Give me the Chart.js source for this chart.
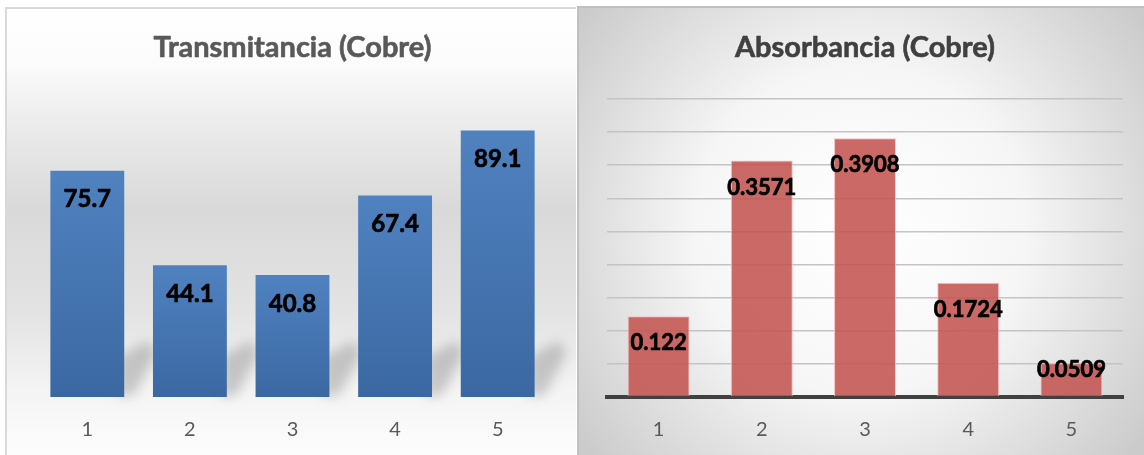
<!DOCTYPE html>
<html>
<head>
<meta charset="utf-8">
<script src="https://cdn.jsdelivr.net/npm/chart.js@4.4.0/dist/chart.umd.min.js"></script>
<style>
  body { margin: 0; background: #fff; width: 1144px; height: 455px; overflow: hidden; }
  .box { position: absolute; }
  #leftBox { left: 5px; top: 7px; width: 571px; height: 448px; }
  #rightBox { left: 577px; top: 6px; width: 567px; height: 449px; }
</style>
</head>
<body>
<div class="box" id="leftBox"><canvas id="transChart" width="571" height="448"></canvas></div>
<div class="box" id="rightBox"><canvas id="absChart" width="567" height="449"></canvas></div>
<script>
const categories = ["1", "2", "3", "4", "5"];
const transmitancia = [75.7, 44.1, 40.8, 67.4, 89.1];
const absorbancia = [0.122, 0.3571, 0.3908, 0.1724, 0.0509];
const titleTrans = "Transmitancia (Cobre)";
const titleAbs = "Absorbancia (Cobre)";

const FONT = 'Lato, "Open Sans", sans-serif';

// background + title + frame
const backPlugin = {
  id: "backPlugin",
  beforeDraw(chart, args, opts) {
    const c = chart.ctx;
    const w = chart.width, h = chart.height;
    c.save();
    let g;
    if (opts.kind === "radial") {
      g = c.createRadialGradient(w * 0.5, h * 0.5, 10, w * 0.5, h * 0.5, w * 0.62);
      g.addColorStop(0, "#ffffff");
      g.addColorStop(0.45, "#f6f6f6");
      g.addColorStop(1, "#cbcbcb");
    } else {
      g = c.createLinearGradient(0, 0, 0, h);
      g.addColorStop(0, "#ffffff");
      g.addColorStop(0.12, "#fcfcfc");
      g.addColorStop(0.24, "#eeeeee");
      g.addColorStop(0.45, "#d9d9d9");
      g.addColorStop(0.68, "#e3e3e3");
      g.addColorStop(0.86, "#f4f4f4");
      g.addColorStop(1, "#fdfdfd");
    }
    c.fillStyle = g;
    c.fillRect(0, 0, w, h);
    c.strokeStyle = opts.frame;
    c.lineWidth = 2;
    c.beginPath();
    c.moveTo(1, h);
    c.lineTo(1, 1);
    c.lineTo(w, 1);
    c.stroke();
    c.fillStyle = opts.titleColor;
    c.strokeStyle = opts.titleColor;
    c.lineWidth = 0.6;
    c.font = "bold 29px " + FONT;
    c.textAlign = "center";
    c.textBaseline = "middle";
    const tx = (chart.chartArea.left + chart.chartArea.right) / 2;
    c.fillText(opts.title, tx, opts.titleY);
    c.strokeText(opts.title, tx, opts.titleY);
    c.restore();
  },
  beforeDatasetsDraw(chart, args, opts) {
    if (!opts.shadow) return;
    const c = chart.ctx;
    const meta = chart.getDatasetMeta(0);
    c.save();
    c.filter = "blur(6px)";
    c.fillStyle = "rgba(0,0,0,0.18)";
    meta.data.forEach((bar) => {
      const xr = bar.x + bar.width / 2;
      const b = bar.base;
      c.beginPath();
      c.moveTo(xr - 6, b);
      c.lineTo(xr - 6, b - 40);
      c.lineTo(xr + 24, b - 56);
      c.lineTo(xr + 32, b - 44);
      c.lineTo(xr + 10, b - 2);
      c.closePath();
      c.fill();
    });
    c.restore();
  },
};

// value labels inside the bar tops
const valuePlugin = {
  id: "valuePlugin",
  afterDatasetsDraw(chart, args, opts) {
    const c = chart.ctx;
    const meta = chart.getDatasetMeta(0);
    const vals = chart.data.datasets[0].data;
    c.save();
    c.fillStyle = "#000";
    c.strokeStyle = "#000";
    c.lineWidth = 0.7;
    c.font = "bold " + opts.size + "px " + FONT;
    c.textAlign = "center";
    c.textBaseline = "middle";
    meta.data.forEach((bar, i) => {
      const y = Math.min(bar.y + opts.offset, bar.base - 26);
      c.fillText(String(vals[i]), bar.x, y);
      c.strokeText(String(vals[i]), bar.x, y);
    });
    c.restore();
  },
};

function blueBar(ctx) {
  const chart = ctx.chart;
  const area = chart.chartArea;
  if (!area || ctx.raw === undefined) return "#4a78b5";
  const top = chart.scales.y.getPixelForValue(ctx.raw);
  const g = chart.ctx.createLinearGradient(0, top, 0, area.bottom);
  g.addColorStop(0, "#5082c0");
  g.addColorStop(1, "#3b68a2");
  return g;
}

const configTrans = {
  type: "bar",
  data: {
    labels: categories,
    datasets: [
      {
        data: transmitancia,
        backgroundColor: blueBar,
        barPercentage: 0.72,
        categoryPercentage: 1,
      },
    ],
  },
  plugins: [backPlugin, valuePlugin],
  options: {
    responsive: false,
    animation: false,
    layout: { padding: { left: 31, right: 27, top: 91, bottom: 0 } },
    scales: {
      y: { display: false, min: 0, max: 100 },
      x: {
        grid: { display: false },
        border: { display: false },
        ticks: { color: "#595959", font: { family: FONT, size: 20 }, padding: 13 },
        afterFit: (s) => { s.height = 58; },
      },
    },
    plugins: {
      legend: { display: false },
      tooltip: { enabled: false },
      backPlugin: { kind: "linear", title: titleTrans, titleY: 41, titleColor: "#595959", frame: "#d9d9d9", shadow: true },
      valuePlugin: { size: 24, offset: 29 },
    },
  },
};

const configAbs = {
  type: "bar",
  data: {
    labels: categories,
    datasets: [
      {
        data: absorbancia,
        backgroundColor: "rgba(196,84,81,0.88)",
        borderColor: "rgba(240,190,188,0.9)",
        borderWidth: 1,
        barPercentage: 0.6,
        categoryPercentage: 1,
      },
    ],
  },
  plugins: [backPlugin, valuePlugin],
  options: {
    responsive: false,
    animation: false,
    layout: { padding: { left: 30, right: 21, top: 93, bottom: 0 } },
    scales: {
      y: {
        min: 0,
        max: 0.45,
        ticks: { display: false, stepSize: 0.05 },
        grid: { color: "#c4c4c4", lineWidth: 1.5, drawTicks: false },
        border: { display: false },
        afterFit: (s) => { s.width = 0; },
      },
      x: {
        grid: { display: false },
        border: { color: "#404040", width: 4 },
        ticks: { color: "#595959", font: { family: FONT, size: 20 }, padding: 13 },
        afterFit: (s) => { s.height = 58; },
      },
    },
    plugins: {
      legend: { display: false },
      tooltip: { enabled: false },
      backPlugin: { kind: "radial", title: titleAbs, titleY: 42, titleColor: "#404040", frame: "#bfbfbf", shadow: false },
      valuePlugin: { size: 22, offset: 27 },
    },
  },
};

var transChart = new Chart(document.getElementById("transChart"), configTrans);
var absChart = new Chart(document.getElementById("absChart"), configAbs);
</script>
</body>
</html>
